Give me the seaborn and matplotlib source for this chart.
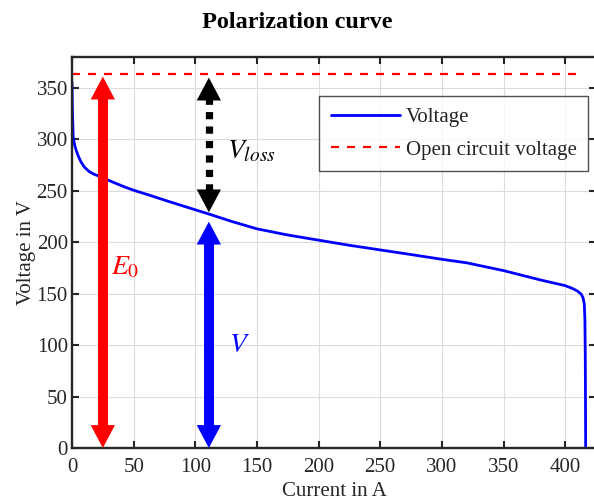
import numpy as np
import pandas as pd
import matplotlib
matplotlib.use('Agg')
import matplotlib.pyplot as plt
import seaborn as sns

# ---- data ----
current = [0, 0.3, 1, 2, 3.2, 5, 7.3, 10, 14, 18, 23.5, 30, 36, 42, 50, 62,
           80, 96, 112, 130, 150, 175, 200, 225, 250, 275, 300, 320, 350, 380,
           400, 406, 410, 413, 414.5, 415.5, 416, 416.3, 416.5, 416.6]
voltage = [356, 330, 302, 295, 290, 284, 278, 273, 268.6, 266, 263.5, 260,
           257, 254, 250.5, 246, 239, 233, 227, 220, 213, 207, 202, 197, 192.5,
           188, 183.4, 180, 172.4, 163.3, 157.8, 155, 152.5, 149.5, 146, 140,
           125, 90, 40, 0]
ocv = 363
ocv_end = 412  # where the dashed line stops

# annotation arrows: (x, y_start, y_end)
e0_arrow = (25, 0, 361)
v_arrow = (111, 0, 220)
vloss_arrow = (111, 229, 360)

df = pd.DataFrame({'Current': current, 'Voltage': voltage})
df_ocv = pd.DataFrame({'Current': [0, ocv_end], 'Voltage': [ocv, ocv]})

sns.set_theme(style='whitegrid')
plt.rcParams['font.family'] = ['Liberation Serif', 'DejaVu Serif']
plt.rcParams['mathtext.fontset'] = 'stix'

fig = plt.figure(figsize=(5.94, 5.01), dpi=100)
ax = fig.add_axes([72 / 594, 53 / 501, 524 / 594, 391 / 501])

sns.lineplot(data=df, x='Current', y='Voltage', ax=ax, color='#0000ff',
             lw=2, sort=False, estimator=None, label='Voltage')
sns.lineplot(data=df_ocv, x='Current', y='Voltage', ax=ax, color='#ff0000',
             lw=1.6, sort=False, estimator=None, label='Open circuit voltage')
ax.lines[-1].set_linestyle((0, (3.6, 3.6)))

HEAD = 21  # head length in data units (~22 px)


def head(x, y_from, y_to, color):
    ax.annotate('', xy=(x, y_to), xytext=(x, y_from),
                arrowprops=dict(arrowstyle='simple,head_length=16.5,head_width=17.5,tail_width=0.1',
                                mutation_scale=1, fc=color, ec='none',
                                shrinkA=0, shrinkB=0))


def double_arrow(x, y0, y1, color, dotted=False):
    if dotted:
        ax.plot([x, x], [y0 + HEAD, y1 - HEAD], color=color, lw=5.2,
                linestyle=(0, (1, 1)), dash_capstyle='butt')
    else:
        ax.plot([x, x], [y0 + HEAD - 2, y1 - HEAD + 2], color=color, lw=7.2,
                solid_capstyle='butt')
    head(x, y1 - HEAD, y1, color)
    head(x, y0 + HEAD, y0, color)


double_arrow(*e0_arrow, '#ff0000')
double_arrow(*v_arrow, '#0000ff')
double_arrow(*vloss_arrow, 'black', dotted=True)

ax.text(32, 175, r'$E_0$', color='#ff0000', fontsize=20, ha='left', va='center')
ax.text(127, 100, r'$V$', color='#0000ff', fontsize=20, ha='left', va='center')
ax.text(126, 288, r'$V_{loss}$', color='black', fontsize=20, ha='left', va='center')

ax.set_xlim(0, 425)
ax.set_ylim(0, 380)
ax.set_xticks(np.arange(0, 401, 50))
ax.set_yticks(np.arange(0, 351, 50))
ax.grid(True, color='#dcdcdc', lw=0.8)
ax.set_facecolor('white')
for s in ax.spines.values():
    s.set_color('#262626')
    s.set_linewidth(1.7)
ax.tick_params(axis='both', which='both', direction='in', length=5, width=1.5,
               color='#262626', labelsize=15, labelcolor='#262626',
               top=True, right=True, bottom=True, left=True)
ax.tick_params(axis='x', pad=7)
ax.tick_params(axis='y', pad=3)

ax.set_xlabel('Current in A', fontsize=15, color='#262626', labelpad=4)
ax.set_ylabel('Voltage in V', fontsize=15, color='#262626', labelpad=0)
fig.text(0.5, 1 - 22 / 501, 'Polarization curve', fontsize=17.5,
         fontweight='bold', ha='center', va='center', color='black')

leg = ax.legend(loc='upper right', bbox_to_anchor=(0.985, 0.9), fontsize=15,
                frameon=True, fancybox=False, handlelength=3.3,
                borderpad=0.55, labelspacing=0.62, handletextpad=0.3,
                borderaxespad=0)
leg.get_frame().set_edgecolor('#262626')
leg.get_frame().set_linewidth(1.0)

fig.savefig('out.png', dpi=100)
